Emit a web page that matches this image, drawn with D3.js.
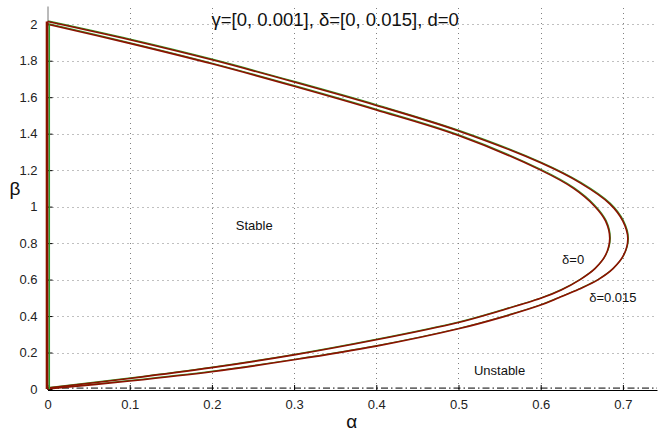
<!DOCTYPE html>
<html>
<head>
<meta charset="utf-8">
<script src="https://cdn.jsdelivr.net/npm/d3@7"></script>
<style>
  body { margin: 0; background: #fff; }
  svg { display: block; font-family: "Liberation Sans", Arial, sans-serif; }
</style>
</head>
<body>
<div id="chart"></div>
<script>
// ===============================
// DONNÉES
// ===============================
const xTicks = [0, 0.1, 0.2, 0.3, 0.4, 0.5, 0.6, 0.7];
const yTicks = [0, 0.2, 0.4, 0.6, 0.8, 1, 1.2, 1.4, 1.6, 1.8, 2];

// frontière delta = 0
const alphaD0 = [0, 0.1, 0.2, 0.3, 0.4, 0.5, 0.6, 0.64, 0.665, 0.679, 0.684,
  0.679, 0.666, 0.648, 0.625, 0.6, 0.55, 0.5, 0.4, 0.3, 0.2, 0.1, 0];
const betaD0 = [2.0, 1.895, 1.783, 1.66, 1.53, 1.39, 1.2, 1.1, 1.005, 0.92, 0.825,
  0.735, 0.66, 0.6, 0.543, 0.497, 0.428, 0.365, 0.27, 0.187, 0.117, 0.058, 0.005];

// frontière delta = 0.015
const alphaD15 = [0, 0.1, 0.2, 0.3, 0.4, 0.5, 0.6, 0.648, 0.684, 0.7, 0.706,
  0.701, 0.688, 0.67, 0.647, 0.622, 0.6, 0.55, 0.5, 0.4, 0.3, 0.2, 0.1, 0];
const betaD15 = [2.015, 1.915, 1.805, 1.683, 1.555, 1.415, 1.24, 1.13, 1.015, 0.92, 0.825,
  0.735, 0.66, 0.6, 0.548, 0.5, 0.46, 0.39, 0.33, 0.235, 0.16, 0.095, 0.044, 0];

// bord alpha = 0 et ligne tiret-point
const edgeBeta = [0, 2.015];
const dashBeta = 0.005;

const alphaMax = 0.7415;
const betaMax = 2.1;

// ===============================
// DIMENSIONS
// ===============================
const W = 665, H = 435;
const margin = { top: 6, right: 8, bottom: 46, left: 47.5 };

const svg = d3.select("#chart")
  .append("svg")
  .attr("width", W)
  .attr("height", H);

const x = d3.scaleLinear()
  .domain([0, alphaMax])
  .range([margin.left, W - margin.right]);

const y = d3.scaleLinear()
  .domain([0, betaMax])
  .range([H - margin.bottom, margin.top]);

// ===============================
// GRILLE
// ===============================
const grid = svg.append("g")
  .attr("stroke", "#808080")
  .attr("stroke-width", 1)
  .attr("stroke-dasharray", "1,4");

grid.selectAll(".gx")
  .data(xTicks.filter(d => d > 0))
  .join("line")
  .attr("x1", d => Math.round(x(d)) + 0.5)
  .attr("x2", d => Math.round(x(d)) + 0.5)
  .attr("y1", y(0))
  .attr("y2", y(betaMax));

grid.selectAll(".gy")
  .data(yTicks.filter(d => d > 0))
  .join("line")
  .attr("x1", x(0))
  .attr("x2", x(alphaMax))
  .attr("y1", d => Math.round(y(d)) + 0.5)
  .attr("y2", d => Math.round(y(d)) + 0.5);

// ===============================
// AXES
// ===============================
svg.append("g")
  .attr("transform", `translate(0,${y(0) + 1})`)
  .call(d3.axisBottom(x).tickValues(xTicks).tickSizeInner(-5).tickSizeOuter(0)
    .tickPadding(10).tickFormat(d3.format("")))
  .call(g => g.select(".domain").attr("stroke", "#000"))
  .call(g => g.selectAll(".tick text").attr("font-size", "13px").attr("fill", "#222")
    .attr("font-family", "Liberation Sans, Arial, sans-serif"));

svg.append("g")
  .attr("transform", `translate(${x(0)},0)`)
  .call(d3.axisLeft(y).tickValues(yTicks).tickSizeInner(-5).tickSizeOuter(0)
    .tickPadding(10).tickFormat(d3.format("")))
  .call(g => g.select(".domain").attr("stroke", "#777"))
  .call(g => g.selectAll(".tick text").attr("font-size", "13px").attr("fill", "#222")
    .attr("font-family", "Liberation Sans, Arial, sans-serif"));

// ===============================
// COURBES
// ===============================
const line = d3.line()
  .x(d => x(d[0]))
  .y(d => y(d[1]))
  .curve(d3.curveCatmullRom.alpha(0.5));

const curves = [
  d3.zip(alphaD0, betaD0),
  d3.zip(alphaD15, betaD15)
];

// ligne tiret-point
svg.append("line")
  .attr("x1", x(0))
  .attr("x2", x(alphaMax))
  .attr("y1", y(dashBeta))
  .attr("y2", y(dashBeta))
  .attr("stroke", "#000")
  .attr("stroke-width", 1)
  .attr("stroke-dasharray", "7,3,1.5,3");

// trace vert (gamma = 0.001) sous le rouge
svg.append("g")
  .attr("transform", "translate(0.6,-0.6)")
  .selectAll("path")
  .data(curves)
  .join("path")
  .attr("fill", "none")
  .attr("stroke", "#3a9a2a")
  .attr("stroke-width", 1.2)
  .attr("d", line);

svg.append("g")
  .selectAll("path")
  .data(curves)
  .join("path")
  .attr("fill", "none")
  .attr("stroke", "#8b1200")
  .attr("stroke-width", 1.6)
  .attr("d", line);

// bord alpha = 0
svg.append("line")
  .attr("x1", x(0) + 1.8)
  .attr("x2", x(0) + 1.8)
  .attr("y1", y(edgeBeta[0]))
  .attr("y2", y(2.0))
  .attr("stroke", "#2ca02c")
  .attr("stroke-width", 1.5);

svg.append("line")
  .attr("x1", x(0) - 0.5)
  .attr("x2", x(0) - 0.5)
  .attr("y1", y(edgeBeta[0]))
  .attr("y2", y(edgeBeta[1]))
  .attr("stroke", "#8b1200")
  .attr("stroke-width", 2.6);

// ===============================
// TEXTES
// ===============================
const txt = (s, px, py, size, anchor) => svg.append("text")
  .attr("x", px)
  .attr("y", py)
  .attr("font-size", size)
  .attr("fill", "#111")
  .attr("text-anchor", anchor || "middle")
  .attr("dominant-baseline", "central")
  .text(s);

txt("γ=[0, 0.001], δ=[0, 0.015], d=0", x(0.35), 19, "18.5px");
txt("Stable", x(0.2515), y(0.895), "13px");
txt("Unstable", x(0.55), y(0.1), "13px");
txt("δ=0", x(0.626), y(0.71), "13px", "start");
txt("δ=0.015", x(0.659), y(0.5), "13px", "start");

txt("α", x(0.37), 421, "19px");
txt("β", 15, y(1.1), "19px");
</script>
</body>
</html>
